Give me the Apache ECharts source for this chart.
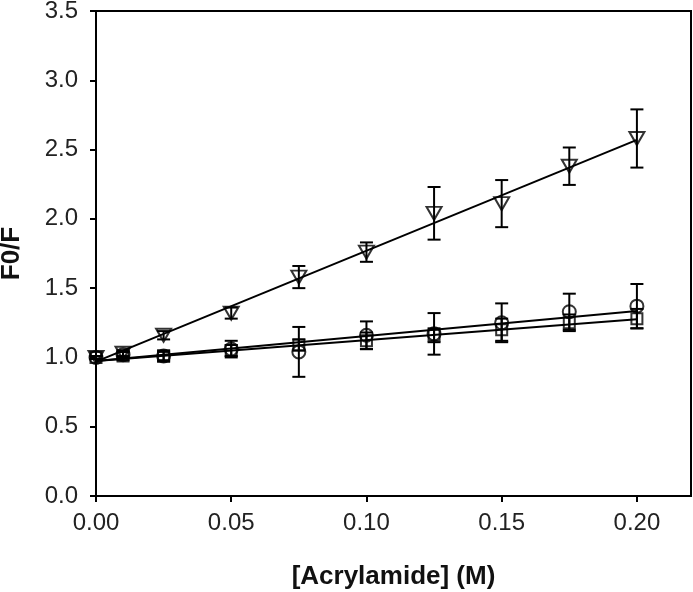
<!DOCTYPE html>
<html>
<head>
<meta charset="utf-8">
<script src="https://cdn.jsdelivr.net/npm/echarts@6/dist/echarts.min.js"></script>
<style>
html,body{margin:0;padding:0;background:#fff;}
#chart{width:693px;height:592px;}
</style>
</head>
<body>
<div id="chart"></div>
<script>
// Concentrations (M)
var xValues = [0, 0.01, 0.025, 0.05, 0.075, 0.1, 0.125, 0.15, 0.175, 0.2];
// Circles
var circleY   = [1.00, 1.02, 1.01, 1.06, 1.04, 1.16, 1.17, 1.25, 1.33, 1.37];
var circleErr = [0.01, 0.02, 0.04, 0.06, 0.18, 0.10, 0.15, 0.14, 0.13, 0.16];
// Squares
var squareY   = [1.00, 1.01, 1.01, 1.05, 1.09, 1.12, 1.16, 1.20, 1.25, 1.28];
var squareErr = [0.01, 0.03, 0.03, 0.04, 0.04, 0.06, 0.05, 0.08, 0.06, 0.07];
// Down triangles
var triangleY   = [1.00, 1.03, 1.16, 1.32, 1.58, 1.76, 2.04, 2.11, 2.38, 2.58];
var triangleErr = [0.01, 0.02, 0.03, 0.04, 0.08, 0.07, 0.19, 0.17, 0.135, 0.21];
// Linear fits (values at fitX ends)
var fitX = [0, 0.2];
var circleFit = [0.975, 1.335];
var squareFit = [0.975, 1.275];
var triangleFit = [0.97, 2.57];
// Tick labels
var xTickValues = [0, 0.05, 0.1, 0.15, 0.2];
var xTicks = ['0.00', '0.05', '0.10', '0.15', '0.20'];
var yTicks = ['0.0', '0.5', '1.0', '1.5', '2.0', '2.5', '3.0', '3.5'];

function pairs(xs, ys) { return xs.map(function (x, i) { return [x, ys[i]]; }); }
function errData(ys, es) { return xValues.map(function (x, i) { return [x, ys[i] - es[i], ys[i] + es[i]]; }); }

function errorBarSeries(ys, es) {
  return {
    type: 'custom',
    data: errData(ys, es),
    z: 3,
    silent: true,
    renderItem: function (params, api) {
      var x = api.value(0);
      var lo = api.coord([x, api.value(1)]);
      var hi = api.coord([x, api.value(2)]);
      var cap = 6.5;
      var style = { stroke: '#000', lineWidth: 2, fill: 'none' };
      return {
        type: 'group',
        children: [
          { type: 'line', shape: { x1: lo[0], y1: lo[1], x2: hi[0], y2: hi[1] }, style: style },
          { type: 'line', shape: { x1: lo[0] - cap, y1: lo[1], x2: lo[0] + cap, y2: lo[1] }, style: style },
          { type: 'line', shape: { x1: hi[0] - cap, y1: hi[1], x2: hi[0] + cap, y2: hi[1] }, style: style }
        ]
      };
    }
  };
}

function fitSeries(fy) {
  return {
    type: 'line',
    data: pairs(fitX, fy),
    showSymbol: false,
    symbol: 'none',
    lineStyle: { color: '#000', width: 2 },
    z: 2,
    silent: true
  };
}

function markerSeries(ys, symbol, size, rotate) {
  return {
    type: 'scatter',
    data: pairs(xValues, ys),
    symbol: symbol,
    symbolSize: size,
    symbolRotate: rotate || 0,
    itemStyle: { color: 'rgba(0,0,0,0)', borderColor: '#000', borderWidth: 2 },
    z: 4,
    silent: true
  };
}

var chart = echarts.init(document.getElementById('chart'), null, { renderer: 'canvas' });
var fontFam = '"Liberation Sans", Arial, sans-serif';
chart.setOption({
  backgroundColor: '#fff',
  animation: false,
  grid: {
    left: 96, top: 11, right: 2, bottom: 96,
    containLabel: false, outerBoundsMode: 'none',
    show: true, borderColor: '#000', borderWidth: 2, backgroundColor: 'transparent'
  },
  xAxis: {
    type: 'value',
    min: 0, max: 0.22, interval: 0.05,
    name: '[Acrylamide] (M)',
    nameLocation: 'middle',
    nameGap: 68,
    nameTextStyle: { fontFamily: fontFam, fontWeight: 'bold', fontSize: 26, color: '#111' },
    axisLine: { show: true, onZero: false, lineStyle: { color: '#000', width: 2 } },
    axisTick: { show: true, inside: false, length: 6, customValues: xTickValues, lineStyle: { color: '#000', width: 2 } },
    splitLine: { show: false },
    axisLabel: {
      fontFamily: fontFam, fontSize: 24, color: '#222', margin: 15,
      customValues: xTickValues,
      formatter: function (v) { var i = Math.round(v / 0.05); return xTicks[i] !== undefined ? xTicks[i] : ''; }
    }
  },
  yAxis: {
    type: 'value',
    min: 0, max: 3.5, interval: 0.5,
    name: 'F0/F',
    nameLocation: 'middle',
    nameGap: 71,
    nameTextStyle: { fontFamily: fontFam, fontWeight: 'bold', fontSize: 26, color: '#111' },
    axisLine: { show: true, onZero: false, lineStyle: { color: '#000', width: 2 } },
    axisTick: { show: true, inside: false, length: 6, lineStyle: { color: '#000', width: 2 } },
    splitLine: { show: false },
    axisLabel: {
      fontFamily: fontFam, fontSize: 24, color: '#222', margin: 18,
      formatter: function (v) { var i = Math.round(v / 0.5); return yTicks[i] !== undefined ? yTicks[i] : ''; }
    }
  },
  series: [
    fitSeries(circleFit),
    fitSeries(squareFit),
    fitSeries(triangleFit),
    errorBarSeries(squareY, squareErr),
    errorBarSeries(circleY, circleErr),
    errorBarSeries(triangleY, triangleErr),
    markerSeries(squareY, 'rect', 11),
    markerSeries(circleY, 'circle', 13),
    markerSeries(triangleY, 'triangle', [15, 13], 180)
  ]
});
</script>
</body>
</html>
